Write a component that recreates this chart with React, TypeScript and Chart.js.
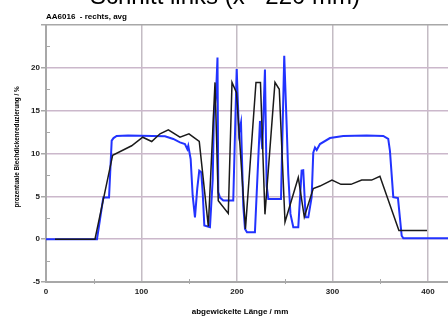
import React, { useEffect, useRef } from 'react';
import { Chart, registerables } from 'chart.js';

Chart.register(...registerables);

const titleText = 'Schnitt links (x= 220 mm)';
const subTitleText = 'AA6016  - rechts, avg';
const xAxisTitle = 'abgewickelte Länge / mm';
const yAxisTitle = 'prozentuale Blechdickenreduzierung / %';

const xTickLabels = [0, 100, 200, 300, 400];
const yTickLabels = [-5, 0, 5, 10, 15, 20];

const blackX = [9.4, 51.3, 69.8, 89.7, 101.3, 110.7, 119.4, 128.1, 140.3, 149.7, 160.5, 170, 177, 180.4, 190.9, 194.8, 199.5, 208.9, 219.9, 224.6, 229.3, 239.8, 244.3, 250.3, 264.2, 270.5, 279.9, 286.9, 299.5, 308.9, 319.4, 330.6, 341, 349.7, 369.6, 399];
const blackY = [0, 0, 9.8, 10.9, 11.9, 11.4, 12.3, 12.75, 11.9, 12.3, 11.4, 1.5, 18.3, 4.5, 3.0, 18.3, 17.1, 1.2, 18.3, 18.3, 2.9, 18.3, 17.5, 2.0, 7.2, 2.6, 5.9, 6.2, 6.9, 6.4, 6.4, 6.9, 6.9, 7.35, 1.0, 1.0];

const blueX = [0, 53.4, 60, 66, 68.8, 70.7, 74, 85.9, 124.6, 133.3, 140.3, 145.5, 148, 149, 151.5, 153.6, 156, 158.4, 160.5, 162.6, 164.1, 165.8, 171.7, 174.6, 175.9, 178, 179.6, 180.4, 182.2, 185.7, 196.1, 199.7, 202.1, 204.2, 206.6, 208.4, 210.5, 218.8, 224.1, 226.5, 229.3, 231.1, 232.8, 246.1, 249.5, 252, 253.7, 256, 259, 264.2, 267.7, 269.4, 271.9, 274.7, 278.2, 279.9, 281.7, 283.5, 286.9, 297.4, 311.3, 335.8, 353.2, 358.4, 360.2, 363.7, 368.6, 372.5, 374.2, 421];
const blueY = [0, 0, 4.85, 4.85, 11.5, 11.8, 12.05, 12.1, 12.0, 11.7, 11.3, 11.1, 10.5, 10.9, 9.35, 5.1, 2.55, 5.9, 8.0, 7.8, 5.45, 1.6, 1.4, 7.0, 14.8, 16.7, 21.2, 5.5, 4.85, 4.5, 4.5, 19.85, 12.4, 13.6, 3.9, 1.2, 0.8, 0.8, 13.8, 10.5, 19.8, 6.25, 4.7, 4.7, 21.4, 13.4, 7.6, 2.95, 1.4, 1.4, 8.0, 8.05, 2.55, 2.55, 4.9, 10.1, 10.7, 10.4, 11.1, 11.8, 12.05, 12.1, 12.05, 11.7, 10.3, 4.9, 4.8, 0.4, 0.1, 0.1];

const zip = (xs: number[], ys: number[]) => xs.map((x, i) => ({ x, y: ys[i] }));

const FONT = '"Liberation Sans", Arial, sans-serif';
const AXIS_GREY = '#a8a8a8';
const H_GRID = '#cbb8cb';
const V_GRID = '#c4bcc4';

const decorPlugin = {
  id: 'decor',
  afterDraw(chart: any) {
    const ctx = chart.ctx;
    const xs = chart.scales.x;
    const ys = chart.scales.y;
    const area = chart.chartArea;
    ctx.save();
    ctx.fillStyle = '#000';
    ctx.font = `24px ${FONT}`;
    ctx.textAlign = 'center';
    ctx.textBaseline = 'alphabetic';
    ctx.fillText(titleText, 225, 4);
    ctx.font = `bold 8px ${FONT}`;
    ctx.textAlign = 'left';
    ctx.fillText(subTitleText, area.left, 19);
    ctx.textAlign = 'center';
    ctx.textBaseline = 'middle';
    ctx.font = `bold 8px ${FONT}`;
    ctx.fillText(xAxisTitle, 240, 312);
    ctx.save();
    ctx.translate(17, 147);
    ctx.rotate(-Math.PI / 2);
    ctx.font = `bold 6.3px ${FONT}`;
    ctx.fillText(yAxisTitle, 0, 0);
    ctx.restore();
    ctx.strokeStyle = AXIS_GREY;
    ctx.lineWidth = 1;
    for (let v = -2.5; v < 25; v += 5) {
      const py = Math.round(ys.getPixelForValue(v)) + 0.5;
      ctx.beginPath();
      ctx.moveTo(area.left, py);
      ctx.lineTo(area.left + 4, py);
      ctx.stroke();
    }
    for (let v = 50; v < 421; v += 100) {
      const px = Math.round(xs.getPixelForValue(v)) + 0.5;
      ctx.beginPath();
      ctx.moveTo(px, area.bottom - 3);
      ctx.lineTo(px, area.bottom + 2);
      ctx.stroke();
    }
    ctx.restore();
  },
};

export default function App() {
  const ref = useRef<HTMLCanvasElement>(null);
  useEffect(() => {
    if (!ref.current) return;
    const chart = new Chart(ref.current, {
      type: 'line',
      data: {
        datasets: [
          {
            label: 'black',
            data: zip(blackX, blackY),
            borderColor: '#1a1a1a',
            borderWidth: 1.5,
            pointRadius: 0,
            tension: 0,
            fill: false,
          },
          {
            label: 'blue',
            data: zip(blueX, blueY),
            borderColor: '#2233ff',
            borderWidth: 2,
            pointRadius: 0,
            tension: 0,
            fill: false,
          },
        ],
      },
      options: {
        animation: false,
        responsive: false,
        maintainAspectRatio: false,
        layout: { padding: { top: 25, right: 0, left: 0, bottom: 0 } },
        plugins: { legend: { display: false }, tooltip: { enabled: false }, title: { display: false } },
        scales: {
          x: {
            type: 'linear',
            min: 0,
            max: 421,
            afterFit: (s: any) => { s.height = 38; s.paddingRight = 0; },
            border: { color: AXIS_GREY, width: 2 },
            grid: {
              color: (c: any) => (c.tick && c.tick.value % 100 === 0 && c.tick.value !== 0 ? V_GRID : 'rgba(0,0,0,0)'),
              drawTicks: false,
              lineWidth: 1.5,
            },
            ticks: {
              stepSize: 50,
              includeBounds: false,
              autoSkip: false,
              maxRotation: 0,
              padding: 5,
              color: '#222',
              font: { family: FONT, size: 8, weight: 'bold' },
              callback: (v: any) => (xTickLabels.includes(Number(v)) ? String(v) : ''),
            },
          },
          y: {
            type: 'linear',
            min: -5,
            max: 25,
            afterFit: (s: any) => { s.width = 46; },
            border: { color: AXIS_GREY, width: 2 },
            grid: {
              color: (c: any) => {
                const v = c.tick ? c.tick.value : 0;
                if (v === 25) return AXIS_GREY;
                if (v % 5 === 0 && v !== -5) return H_GRID;
                return 'rgba(0,0,0,0)';
              },
              tickColor: (c: any) => {
                const v = c.tick ? c.tick.value : 0;
                return v % 5 === 0 ? AXIS_GREY : 'rgba(0,0,0,0)';
              },
              tickLength: 5,
              lineWidth: 1.5,
            },
            ticks: {
              stepSize: 2.5,
              autoSkip: false,
              padding: 1,
              color: '#222',
              font: { family: FONT, size: 8, weight: 'bold' },
              callback: (v: any) => (yTickLabels.includes(Number(v)) ? String(v) : ''),
            },
          },
        },
      },
      plugins: [decorPlugin],
    });
    return () => chart.destroy();
  }, []);
  return (
    <div style={{ position: 'fixed', left: 0, top: 0, width: 448, height: 320, background: '#fff' }}>
      <canvas ref={ref} width={448} height={320} style={{ width: 448, height: 320, display: 'block' }} />
    </div>
  );
}
